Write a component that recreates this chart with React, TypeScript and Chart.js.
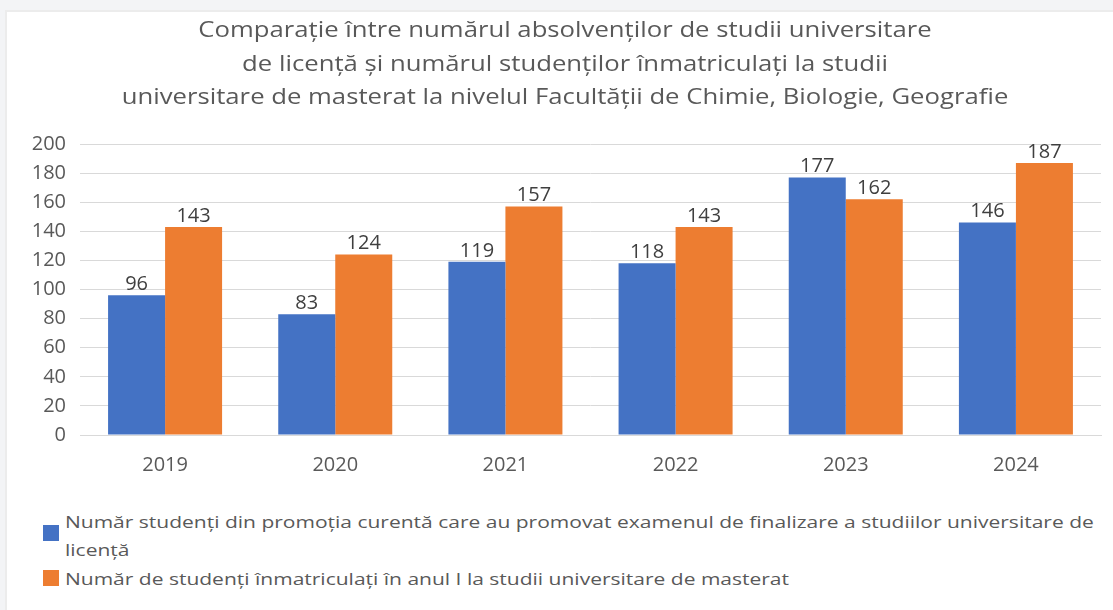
import React, { useEffect, useRef } from "react";
import { Chart, registerables } from "chart.js";

Chart.register(...registerables);

const years = ["2019", "2020", "2021", "2022", "2023", "2024"];
const graduates = [96, 83, 119, 118, 177, 146];
const enrolled = [143, 124, 157, 143, 162, 187];

const titleLines = [
  "Comparație între numărul absolvenților de studii universitare",
  "de licență și numărul studenților înmatriculați la studii",
  "universitare de masterat la nivelul Facultății de Chimie, Biologie, Geografie",
];
const graduatesLabel =
  "Număr studenți din promoția curentă care au promovat examenul de finalizare a studiilor universitare de licență";
const enrolledLabel =
  "Număr de studenți înmatriculați în anul I la studii universitare de masterat";

const BLUE = "#4472C4";
const ORANGE = "#ED7D31";
const FONT = "'Open Sans', 'Noto Sans', sans-serif";
const TEXT = "#595959";

// Writes each bar's value just above its top edge
const valueLabels = {
  id: "valueLabels",
  afterDatasetsDraw(chart: any) {
    const { ctx } = chart;
    ctx.save();
    ctx.font = `20px ${FONT}`;
    ctx.fillStyle = "#3f3f3f";
    ctx.textAlign = "center";
    ctx.textBaseline = "bottom";
    chart.data.datasets.forEach((ds: any, i: number) => {
      const meta = chart.getDatasetMeta(i);
      meta.data.forEach((bar: any, j: number) => {
        ctx.fillText(String(ds.data[j]), bar.x, bar.y - 1);
      });
    });
    ctx.restore();
  },
};

export default function App() {
  const canvasRef = useRef<HTMLCanvasElement | null>(null);

  useEffect(() => {
    document.body.style.margin = "0";
    document.body.style.background = "#f3f4f6";
    const chart = new Chart(canvasRef.current!, {
      type: "bar",
      data: {
        labels: years,
        datasets: [
          { label: graduatesLabel, data: graduates, backgroundColor: BLUE },
          { label: enrolledLabel, data: enrolled, backgroundColor: ORANGE },
        ],
      },
      options: {
        animation: false,
        responsive: false,
        maintainAspectRatio: false,
        layout: { padding: { left: 0, right: 4, top: 134, bottom: 0 } },
        datasets: {
          bar: { categoryPercentage: 0.67, barPercentage: 1 },
        },
        plugins: {
          legend: { display: false },
          tooltip: { enabled: false },
          title: { display: false },
        },
        scales: {
          x: {
            grid: { display: false, drawTicks: false },
            border: { display: true, color: "#d9d9d9" },
            ticks: {
              color: TEXT,
              font: { family: FONT, size: 20 },
              padding: 18,
            },
            afterFit(scale: any) {
              scale.height = 50;
            },
          },
          y: {
            min: 0,
            max: 200,
            grid: { color: "#d9d9d9", drawTicks: false },
            border: { display: false },
            ticks: {
              stepSize: 20,
              color: TEXT,
              font: { family: FONT, size: 20 },
              padding: 14,
            },
            afterFit(scale: any) {
              scale.width = 75;
            },
          },
        },
      },
      plugins: [valueLabels],
    });
    return () => chart.destroy();
  }, []);

  const square = (color: string, top: number) => (
    <span
      style={{
        position: "absolute",
        left: 43,
        top,
        width: 16,
        height: 16,
        background: color,
      }}
    />
  );

  const legendText = (text: string, top: number) => (
    <div
      style={{
        position: "absolute",
        left: 65,
        top,
        width: 850,
        fontFamily: FONT,
        fontSize: 17,
        lineHeight: "28px",
        color: TEXT,
        transform: "scaleX(1.235)",
        transformOrigin: "left top",
      }}
    >
      {text}
    </div>
  );

  return (
    <div style={{ position: "relative", width: 1113, height: 610, overflow: "hidden" }}>
      <div
        style={{
          position: "absolute",
          left: 5,
          top: 10,
          width: 1120,
          height: 620,
          background: "#ffffff",
          borderLeft: "2px solid #ececec",
          borderTop: "2px solid #ececec",
        }}
      />
      <canvas
        ref={canvasRef}
        width={1100}
        height={475}
        style={{ position: "absolute", left: 5, top: 10, width: 1100, height: 475 }}
      />
      <div
        style={{
          position: "absolute",
          left: 0,
          top: 13,
          width: 1130,
          textAlign: "center",
          fontFamily: FONT,
          fontSize: 21,
          lineHeight: "33.6px",
          color: TEXT,
          transform: "scaleX(1.224)",
          transformOrigin: "565px 0",
          whiteSpace: "nowrap",
        }}
      >
        {titleLines.map((line) => (
          <div key={line}>{line}</div>
        ))}
      </div>
      {square(BLUE, 525)}
      {legendText(graduatesLabel, 508)}
      {square(ORANGE, 570)}
      {legendText(enrolledLabel, 565)}
    </div>
  );
}
